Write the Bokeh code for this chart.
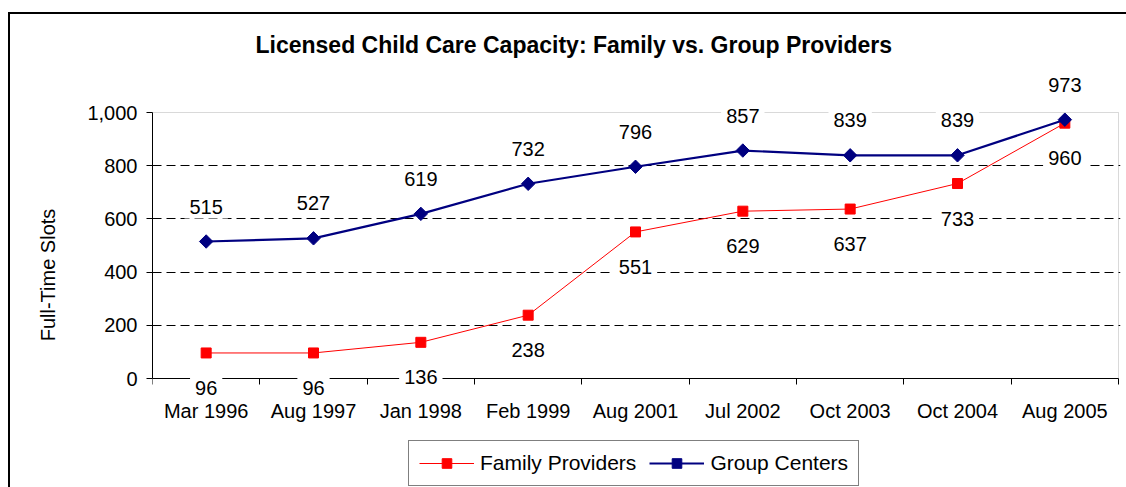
import numpy as np
from bokeh.plotting import figure
from bokeh.models import (Range1d, LinearAxis, FixedTicker, Grid, Label, BoxAnnotation,
                          NumeralTickFormatter, Legend, LegendItem)
from bokeh.embed import file_html
from bokeh.resources import INLINE

categories = ["Mar 1996", "Aug 1997", "Jan 1998", "Feb 1999", "Aug 2001",
              "Jul 2002", "Oct 2003", "Oct 2004", "Aug 2005"]
family = [96, 96, 136, 238, 551, 629, 637, 733, 960]
group = [515, 527, 619, 732, 796, 857, 839, 839, 973]
y_ticks = [0, 200, 400, 600, 800, 1000]
grid_ticks = [200, 400, 600, 800]

FONT = "Liberation Sans"
RED = "#FF0000"
NAVY = "#000080"

n = len(categories)
xpos = [i + 0.5 for i in range(n)]  # category centres on the x scale
Y_MAX = y_ticks[-1]

# layout (canvas pixels)
W, H = 1126, 487
PLOT_L, PLOT_R = 152, 1118      # where x = 0 and x = n fall
PLOT_T, PLOT_B = 112, 378       # where y = Y_MAX and y = 0 fall
FRAME_T, FRAME_R = 62, 1120     # frame extends beyond the plot area so labels/legend are not clipped
py = (PLOT_B - PLOT_T) / Y_MAX
px = (PLOT_R - PLOT_L) / n
y_range = Range1d(-(H - PLOT_B) / py, Y_MAX + (PLOT_T - FRAME_T) / py)
x_range = Range1d(0, (FRAME_R - PLOT_L) / px)

p = figure(x_range=x_range, y_range=y_range, width=W, height=H,
           output_backend="svg", toolbar_location=None,
           x_axis_location=None, y_axis_location=None,
           min_border_left=PLOT_L, min_border_right=W - FRAME_R,
           min_border_top=FRAME_T, min_border_bottom=0)
for g in p.center:
    if isinstance(g, Grid):
        g.visible = False
p.outline_line_color = None
p.background_fill_color = "white"
p.border_fill_color = None
# outer chart border (its left and top edges are visible in the window)
p.styles = {"background": "linear-gradient(#000, #000) 8px 12px / 2px 100% no-repeat, "
                          "linear-gradient(#000, #000) 8px 12px / 100% 2px no-repeat, white"}

# plot-area border (grey top / right edges)
p.add_layout(BoxAnnotation(left=0, right=n, bottom=0, top=Y_MAX, fill_alpha=0,
                           line_color="#808080", line_width=1, level="underlay"))

# title
p.title.text = "Licensed Child Care Capacity: Family vs. Group Providers"
p.title.text_font = FONT
p.title.text_font_size = "23px"
p.title.text_font_style = "bold"
p.title.text_color = "black"
p.title.align = "left"
p.title.offset = 103

# y axis
yaxis = LinearAxis(ticker=FixedTicker(ticks=y_ticks), formatter=NumeralTickFormatter(format="0,0"),
                   axis_label="Full-Time Slots", bounds=(0, Y_MAX))
yaxis.major_tick_out = 6
yaxis.major_tick_in = 0
yaxis.minor_tick_line_color = None
yaxis.major_label_standoff = 9
yaxis.major_label_text_font = FONT
yaxis.major_label_text_font_size = "20px"
yaxis.major_label_text_color = "black"
yaxis.axis_label_text_font = FONT
yaxis.axis_label_text_font_size = "20px"
yaxis.axis_label_text_font_style = "normal"
yaxis.axis_label_text_color = "black"
yaxis.axis_label_standoff = 25
yaxis.axis_line_color = "black"
yaxis.major_tick_line_color = "black"
p.add_layout(yaxis, "left")

# x axis line at y = 0 with tick marks on the category boundaries
xaxis = LinearAxis(ticker=FixedTicker(ticks=[], minor_ticks=list(range(n + 1))),
                   fixed_location=0, bounds=(0, n))
xaxis.major_tick_out = 0
xaxis.major_tick_in = 0
xaxis.major_tick_line_color = None
xaxis.minor_tick_out = 6
xaxis.minor_tick_in = 0
xaxis.minor_tick_line_color = "black"
xaxis.major_label_standoff = 0
xaxis.axis_line_color = "black"
p.add_layout(xaxis, "below")

# category labels under the axis
for x, c in zip(xpos, categories):
    p.add_layout(Label(x=x, y=0, text=c, y_offset=-32, text_align="center",
                       text_baseline="middle", text_font=FONT, text_font_size="20px",
                       text_color="black"))

# grid
grid = Grid(dimension=1, ticker=FixedTicker(ticks=grid_ticks), grid_line_color="black",
            grid_line_dash="9 5", grid_line_width=1)
p.add_layout(grid)

# series
r_fam = p.line(xpos, family, line_color=RED, line_width=1)
s_fam = p.scatter(xpos, family, marker="square", size=10, fill_color=RED, line_color=RED)
r_grp = p.line(xpos, group, line_color=NAVY, line_width=2.2)
s_grp = p.scatter(xpos, group, marker="square", angle=np.pi / 4, size=9.5,
                  fill_color=NAVY, line_color=NAVY)

# data labels
for vals, off in ((group, 35), (family, -35)):
    for x, v in zip(xpos, vals):
        p.add_layout(Label(x=x, y=v, text=str(v), y_offset=off,
                           text_align="center", text_baseline="middle",
                           text_font=FONT, text_font_size="20px", text_color="black",
                           background_fill_color="white", padding=5))

# legend
legend = Legend(items=[LegendItem(label="Family Providers", renderers=[r_fam, s_fam]),
                       LegendItem(label="Group Centers", renderers=[r_grp, s_grp])],
                orientation="horizontal", location=(408 - PLOT_L, 1))
legend.label_text_font = FONT
legend.label_text_font_size = "21px"
legend.label_text_color = "black"
legend.glyph_width = 55
legend.glyph_height = 24
legend.padding = 10
legend.spacing = 13
legend.label_standoff = 6
legend.border_line_color = "black"
legend.border_line_width = 1
legend.background_fill_color = "white"
legend.background_fill_alpha = 1
legend.margin = 0
p.add_layout(legend)

open("out.html", "w").write(file_html(p, INLINE))
